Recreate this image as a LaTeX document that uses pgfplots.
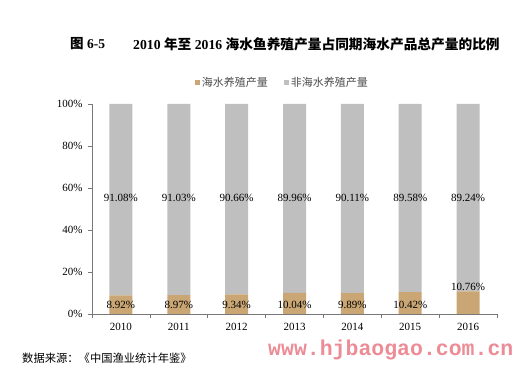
\documentclass[border=0pt]{standalone}
\usepackage{pgfplots}
\pgfplotsset{compat=1.18}
\usepackage{fontspec}
\setmainfont{Liberation Serif}
\newfontfamily\cjk{Noto Sans CJK SC}
\newfontfamily\wm{Liberation Mono}
\definecolor{tanc}{RGB}{201,166,115}
\definecolor{grc}{RGB}{191,191,191}
\definecolor{wmc}{RGB}{236,140,150}
\definecolor{axc}{RGB}{120,120,120}
\begin{document}
\begin{tikzpicture}[x=1pt,y=1pt]
\useasboundingbox (0,0) rectangle (519,377);
\begin{axis}[at={(92pt,63pt)}, anchor=south west, scale only axis,
  width=405pt, height=210pt,
  ybar stacked, bar width=23pt,
  xmin=-0.5, xmax=6.5, ymin=0, ymax=100,
  axis x line*=bottom, axis y line*=left,
  axis line style={-, draw=axc, line width=0.8pt},
  xtick={-0.5,0.5,1.5,2.5,3.5,4.5,5.5,6.5}, xticklabels={,,,,,,,},
  extra x ticks={0,1,2,3,4,5,6},
  extra x tick labels={2010,2011,2012,2013,2014,2015,2016},
  extra x tick style={major tick length=0pt},
  ytick={0,20,40,60,80,100},
  yticklabel={\pgfmathprintnumber{\tick}\%},
  /pgf/number format/assume math mode=true,
  tick align=outside, major tick length=4pt,
  tick style={draw=axc, line width=0.6pt},
  tick label style={font=\fontsize{11}{13}\selectfont},
  xticklabel style={yshift=-6pt},
  yticklabel style={xshift=-2pt},
  legend columns=2,
  legend style={at={(0.47,1.1)}, anchor=center, draw=none, fill=none,
    font=\cjk\fontsize{11}{13}\selectfont, text=black!70,
    /tikz/every even column/.append style={column sep=14pt}},
  legend image code/.code={\fill[#1] (0pt,-2.5pt) rectangle (5pt,2.5pt);},
]
\addplot[fill=tanc, draw=none] coordinates {(0,8.92) (1,8.97) (2,9.34) (3,10.04) (4,9.89) (5,10.42) (6,10.76)};
\addplot[fill=grc, draw=none] coordinates {(0,91.08) (1,91.03) (2,90.66) (3,89.96) (4,90.11) (5,89.58) (6,89.24)};
\legend{海水养殖产量,非海水养殖产量}
\end{axis}
\begin{axis}[at={(92pt,63pt)}, anchor=south west, scale only axis,
  width=405pt, height=210pt, hide axis,
  xmin=-0.5, xmax=6.5, ymin=0, ymax=100]
\addplot[draw=none, mark=none, nodes near coords, point meta=explicit symbolic,
  nodes near coords style={anchor=center, font=\fontsize{11}{13}\selectfont, text=black}]
  coordinates {(0,55.2)[91.08\%] (1,55.2)[91.03\%] (2,55.2)[90.66\%] (3,55.2)[89.96\%] (4,55.2)[90.11\%] (5,55.2)[89.58\%] (6,55.2)[89.24\%]};
\addplot[draw=none, mark=none, nodes near coords, point meta=explicit symbolic,
  nodes near coords style={anchor=center, font=\fontsize{11}{13}\selectfont, text=black}]
  coordinates {(0,4.3)[8.92\%] (1,4.3)[8.97\%] (2,4.3)[9.34\%] (3,4.3)[10.04\%] (4,4.3)[9.89\%] (5,4.3)[10.42\%] (6,12.9)[10.76\%]};
\end{axis}
\node[anchor=west, inner sep=0pt] at (70,333) {\fontsize{13.5}{15}\selectfont\bfseries{\cjk 图} 6-5};
\node[anchor=west, inner sep=0pt] at (133,333) {\fontsize{13.7}{15}\selectfont\bfseries 2010 {\cjk 年至} 2016 {\cjk 海水鱼养殖产量占同期海水产品总产量的比例}};
\node[anchor=west, inner sep=0pt] at (22,19) {\cjk\fontsize{11.3}{13}\selectfont 数据来源：《中国渔业统计年鉴》};
\node[anchor=west, inner sep=0pt, text=wmc] at (268,27) {\wm\bfseries\fontsize{21.5}{24}\selectfont www.hjbaogao.com.cn};
\end{tikzpicture}
\end{document}
